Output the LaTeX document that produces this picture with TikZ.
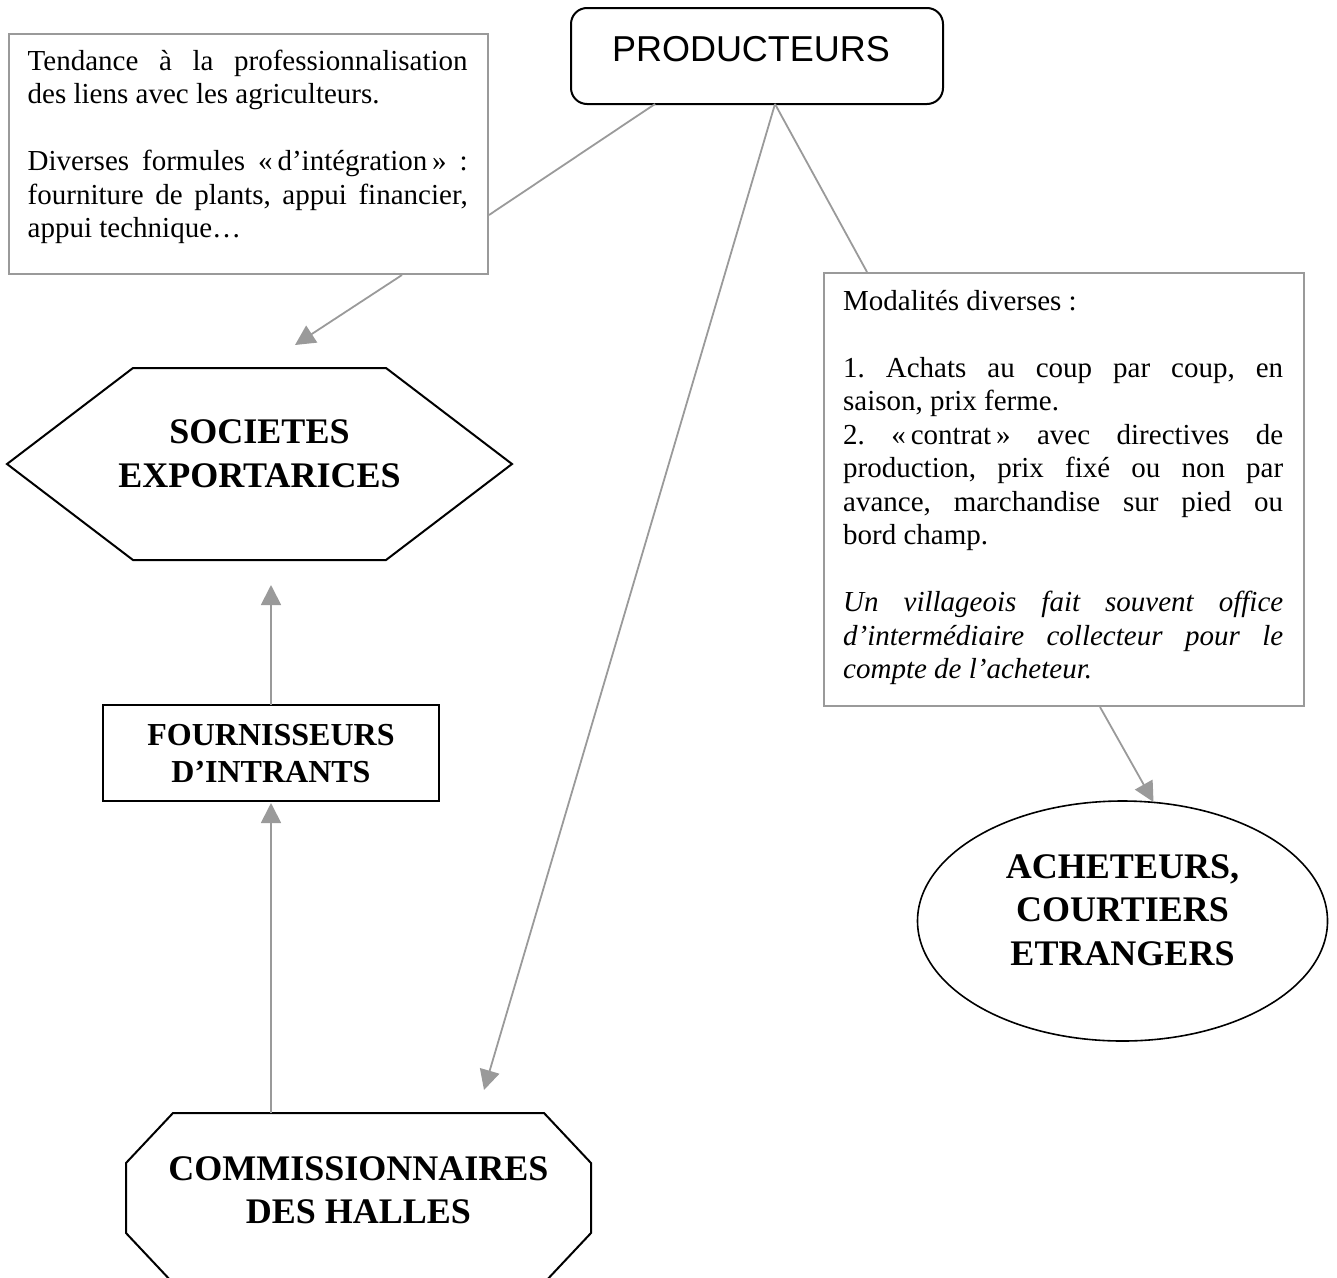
\documentclass[tikz,border=0pt]{standalone}
\usepackage{fontspec}
\setmainfont{Liberation Serif}
\newfontfamily\prodfont{Liberation Sans}
\usetikzlibrary{arrows.meta,calc,shapes.geometric}
\definecolor{conngray}{HTML}{9A9A9A}
\frenchspacing
\newcommand\jline[1]{\hbox to\hsize{#1}}
\newcommand\lline[1]{\hbox to\hsize{#1\hfil}}
\newcommand\eline{\hbox{}}
\newcommand\ctitle[1]{\vtop{\halign{\hfil##\hfil\cr#1\crcr}}}
\tikzset{
  conn/.style={draw=conngray, line width=1.8pt},
  arr/.style={conn, -{Triangle[length=20pt,width=20pt]}, fill=conngray},
  tbox/.style={draw=conngray, line width=2pt, rectangle, inner sep=0pt, anchor=north west},
  blackshape/.style={draw=black, line width=2pt},
  holder/.style={inner sep=0pt, outer sep=0pt},
  body/.style={inner sep=0pt, anchor=base west, font=\frenchspacing\fontsize{29}{33.5}\selectfont},
  ttl/.style={inner sep=0pt, anchor=base, font=\bfseries\fontsize{36}{43.5}\selectfont},
}
\begin{document}
\begin{tikzpicture}[x=1pt,y=-1pt]
\useasboundingbox (0,0) rectangle (1337,1277);
\clip (0,0) rectangle (1337,1277);

% PRODUCTEURS
\node[blackshape, rounded corners=16pt, minimum width=372pt, minimum height=96pt, holder] (prod) at (757,56) {};
\node[inner sep=0pt, anchor=base, font=\prodfont\fontsize{36}{40}\selectfont] (prodT) at (751,61) {PRODUCTEURS};

% left text box
\node[tbox, minimum width=479pt, minimum height=240pt] (lbox) at (8,33) {};
\node[body] (ltext) at (27.5,70) {\vtop{\hsize=440pt
\jline{Tendance à la professionnalisation}
\lline{des liens avec les agriculteurs.}
\eline
\jline{Diverses formules «\,d’intégration\,» :}
\jline{fourniture de plants, appui financier,}
\lline{appui technique…}}};

% right text box
\node[tbox, minimum width=480pt, minimum height=433pt] (rbox) at (823,272) {};
\node[body] (rtext) at (843,310) {\vtop{\hsize=440pt
\lline{Modalités diverses :}
\eline
\jline{1. Achats au coup par coup, en}
\lline{saison, prix ferme.}
\jline{2. «\,contrat\,» avec directives de}
\jline{production, prix fixé ou non par}
\jline{avance, marchandise sur pied ou}
\lline{bord champ.}
\eline
\itshape
\jline{Un villageois fait souvent office}
\jline{d’intermédiaire collecteur pour le}
\lline{compte de l’acheteur.}}};

% hexagon
\node[holder, minimum width=505pt, minimum height=192pt] (hex) at (259.5,464) {};
\draw[blackshape] (hex.west) -- ($(hex.north west)+(126,0)$) -- ($(hex.north east)+(-126,0)$)
  -- (hex.east) -- ($(hex.south east)+(-126,0)$) -- ($(hex.south west)+(126,0)$) -- cycle;
\node[ttl, font=\bfseries\fontsize{36}{44}\selectfont] (hexT) at (259.5,443) {\ctitle{SOCIETES\cr EXPORTARICES}};

% fournisseurs
\node[blackshape, holder, rectangle, minimum width=336pt, minimum height=96pt] (four) at (271,753) {};
\node[ttl, font=\bfseries\fontsize{32}{37}\selectfont] (fourT) at (271,745) {\ctitle{FOURNISSEURS\cr D’INTRANTS}};

% octagon
\node[holder, minimum width=465pt, minimum height=170pt] (oct) at (358.5,1198) {};
\draw[blackshape] ($(oct.north west)+(47,0)$) -- ($(oct.north east)+(-47,0)$)
  -- ($(oct.north east)+(0,50)$) -- ($(oct.south east)+(0,-50)$)
  -- ($(oct.south east)+(-47,0)$) -- ($(oct.south west)+(47,0)$)
  -- ($(oct.south west)+(0,-50)$) -- ($(oct.north west)+(0,50)$) -- cycle;
\node[ttl] (octT) at (358.5,1180) {\ctitle{COMMISSIONNAIRES\cr DES HALLES}};

% ellipse
\node[ellipse, draw=black, line width=1.6pt, holder, minimum width=410pt, minimum height=240pt] (ach) at (1122.5,921) {};
\node[ttl] (achT) at (1122.5,878) {\ctitle{ACHETEURS,\cr COURTIERS\cr ETRANGERS}};

% connectors
\draw[conn] ($(prod.south west)+(84,0)$) -- ($(lbox.north east)+(0,182)$);
\draw[arr] ($(lbox.south west)+(394,0)$) -- ($(hex.north west)+(288,-23)$);
\draw[conn] ($(prod.south west)+(204,0)$) -- ($(rbox.north west)+(44,0)$);
\draw[arr] ($(prod.south west)+(204,0)$) -- ($(oct.north west)+(358,-23)$);
\draw[arr] ($(rbox.south west)+(277,0)$) -- ($(ach.north)+(31,1)$);
\draw[arr] (four.north) -- ($(four.north |- hex.south)+(0,25)$);
\draw[arr] (four.north |- oct.north) -- ($(four.south)+(0,2)$);
\end{tikzpicture}
\end{document}
